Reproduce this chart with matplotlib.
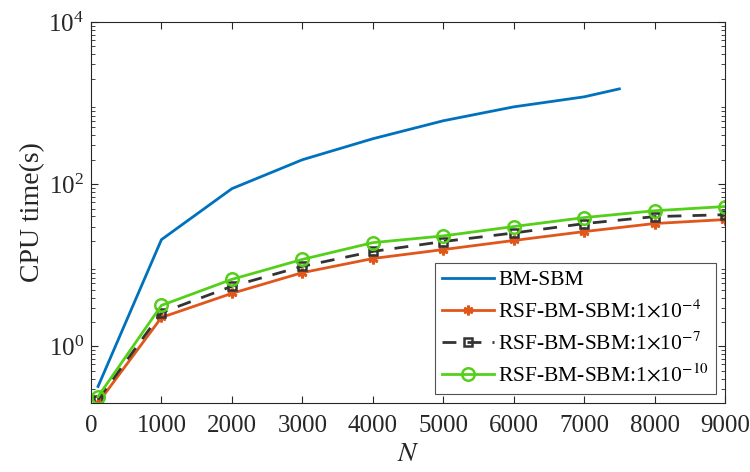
import matplotlib
matplotlib.use('Agg')
import matplotlib.pyplot as plt
from matplotlib.ticker import LogLocator, NullFormatter

# данные
N_bm = [100, 1000, 2000, 3000, 4000, 5000, 6000, 7000, 7500]
t_bm = [0.32, 20.7, 88, 200, 363, 605, 898, 1194, 1497]

N_rsf = [100, 1000, 2000, 3000, 4000, 5000, 6000, 7000, 8000, 9000]
t_rsf4 = [0.2, 2.27, 4.5, 8.1, 12.1, 15.6, 20.2, 26.0, 32.7, 36.6]
t_rsf7 = [0.22, 2.6, 5.5, 9.7, 14.8, 19.6, 25.0, 32.6, 39.8, 42.0]
t_rsf10 = [0.24, 3.2, 6.7, 11.8, 19.0, 23.0, 30.0, 38.7, 47.0, 53.0]

x_ticks = [0, 1000, 2000, 3000, 4000, 5000, 6000, 7000, 8000, 9000]

plt.rcParams['font.family'] = ['Liberation Serif', 'DejaVu Serif']
plt.rcParams['mathtext.fontset'] = 'stix'

fig = plt.figure(figsize=(7.5, 4.72), dpi=100)
ax = fig.add_axes([91 / 750, 1 - 403 / 472, (725 - 91) / 750, (403 - 22) / 472])

ax.plot(N_bm, t_bm, color='#0072BD', lw=2, label='BM-SBM')
ax.plot(N_rsf, t_rsf4, color='#E0561B', lw=2, marker=(6, 2, 0), ms=7, mew=2,
        label=r'RSF-BM-SBM:1$\times$10$^{-4}$')
ax.plot(N_rsf, t_rsf7, color='#333333', lw=2, ls=(0, (5, 4)), marker='s', ms=6,
        mfc='none', mew=1.8, label=r'RSF-BM-SBM:1$\times$10$^{-7}$')
ax.plot(N_rsf, t_rsf10, color='#55D01A', lw=2, marker='o', ms=9, mfc='none', mew=1.8,
        label=r'RSF-BM-SBM:1$\times$10$^{-10}$')

ax.set_yscale('log')
ax.set_xlim(0, 9000)
ax.set_ylim(0.2, 1e4)
ax.set_xticks(x_ticks)
ax.set_xticklabels([str(v) for v in x_ticks])
ax.set_yticks([1, 100, 10000])
ax.yaxis.set_minor_locator(LogLocator(base=10, subs=range(2, 10), numticks=20))
ax.yaxis.set_minor_formatter(NullFormatter())

ax.tick_params(which='both', direction='in', top=True, right=True, labelsize=18, colors='#262626')
ax.tick_params(axis='x', which='major', pad=9)
ax.tick_params(axis='y', which='major', pad=5)
ax.tick_params(which='major', length=5, width=0.8)
ax.tick_params(which='minor', length=3, width=0.6)
for s in ax.spines.values():
    s.set_color('#262626')
    s.set_linewidth(0.8)

ax.set_xlabel('$N$', fontsize=20, color='#262626', labelpad=3)
ax.set_ylabel('CPU time(s)', fontsize=20, color='#262626', labelpad=2)

leg = ax.legend(loc='lower right', fontsize=15.5, frameon=True, fancybox=False,
                edgecolor='#262626', handlelength=2.4, borderpad=0.35,
                labelspacing=0.45, handletextpad=0.2, borderaxespad=0.4)
leg.get_frame().set_linewidth(0.8)

fig.savefig('out.png', dpi=100)
